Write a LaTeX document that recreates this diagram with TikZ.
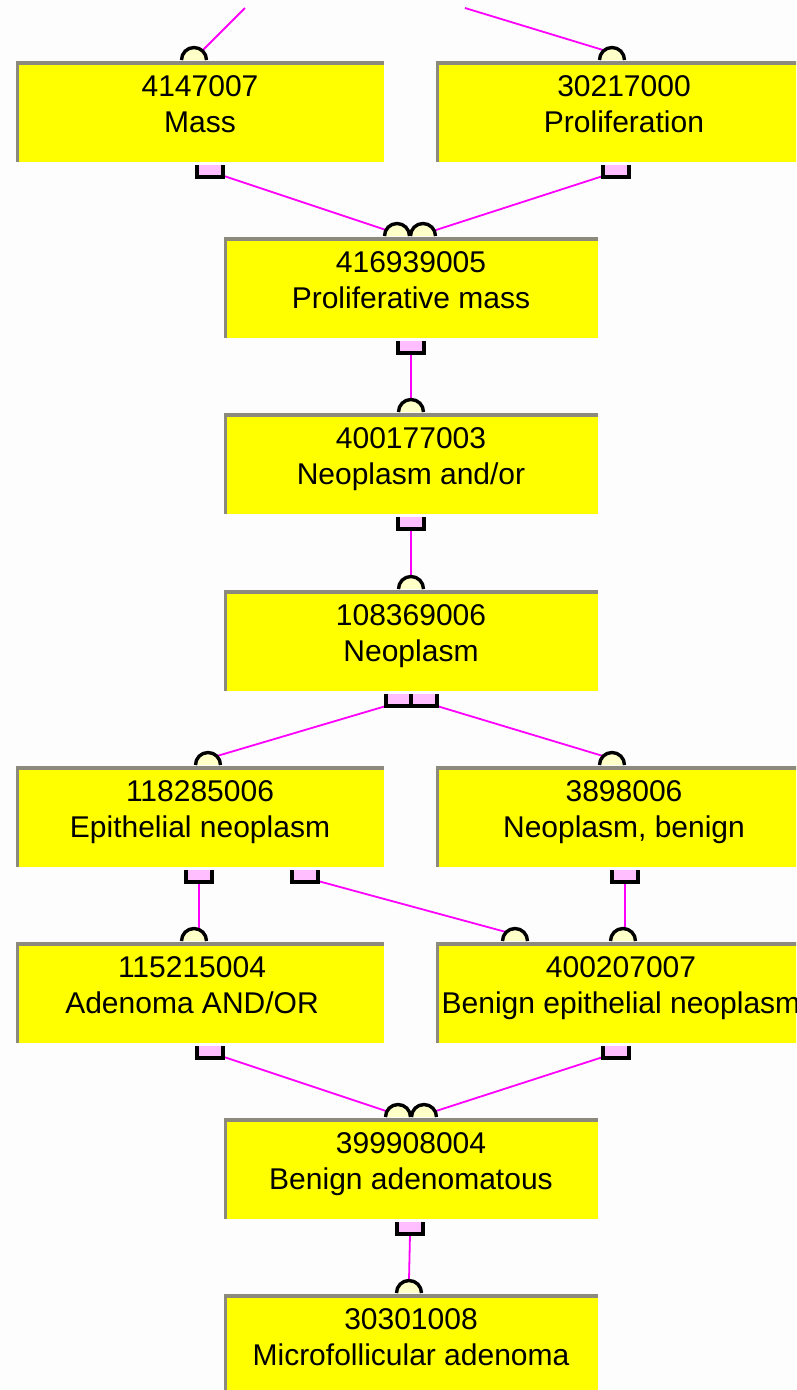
\documentclass[tikz,border=0pt]{standalone}
\usepackage{fontspec}
\setmainfont{Liberation Sans}
\usetikzlibrary{calc}
\definecolor{boxyellow}{RGB}{255,255,0}
\definecolor{edgegray}{RGB}{140,138,125}
\definecolor{linkmag}{RGB}{255,0,255}
\definecolor{sqpink}{RGB}{255,190,255}
\definecolor{arcfill}{RGB}{255,255,200}
\definecolor{bgwhite}{RGB}{253,253,253}
\tikzset{
  concept/.style={fill=boxyellow, draw=none, minimum height=101pt, inner sep=0pt, outer sep=0pt},
  sidebox/.style={concept, minimum width=368pt},
  midbox/.style={concept, minimum width=374pt},
  lbl/.style={font=\fontsize{30}{36}\selectfont, align=center, inner sep=0pt, anchor=north},
  link/.style={linkmag, line width=1.8pt},
  portedge/.style={black, line width=3.4pt},
}
\newcommand{\PortArc}[2]{\draw[portedge, fill=arcfill] (#1-12.5,#2) arc[start angle=180,end angle=360,radius=12.5];}
\newcommand{\PortSq}[2]{\fill[sqpink] (#1-13,#2) rectangle (#1+13,#2+12);
  \draw[portedge] (#1-13,#2) -- (#1-13,#2+12) -- (#1+13,#2+12) -- (#1+13,#2);}
\newcommand{\Rim}[1]{\fill[edgegray] (#1.north west) rectangle ($(#1.north east)+(0,4)$);
  \fill[edgegray] (#1.north west) rectangle ($(#1.south west)+(3,0)$);}
\begin{document}
\begin{tikzpicture}[x=1pt,y=-1pt]
\useasboundingbox (0,0) rectangle (796,1390);
\fill[bgwhite] (0,0) rectangle (796,1390);
\clip (0,0) rectangle (796,1390);
% boxes
\node[sidebox] (mass) at (200,111.5) {};
\node[sidebox] (prolif) at (620,111.5) {};
\node[midbox] (pmass) at (411,287.5) {};
\node[midbox] (nandor) at (411,463.5) {};
\node[midbox] (neo) at (411,640.5) {};
\node[sidebox] (epith) at (200,816.5) {};
\node[sidebox] (nben) at (620,816.5) {};
\node[sidebox] (aden) at (200,992.5) {};
\node[sidebox] (benepi) at (620,992.5) {};
\node[midbox] (benaden) at (411,1168.5) {};
\node[midbox] (micro) at (411,1344.5) {};
\foreach \n in {mass,prolif,pmass,nandor,neo,epith,nben,aden,benepi,benaden,micro}{\Rim{\n}}
% labels
\node[lbl] at ($(mass.north)+(0,10)$) {\strut 4147007\\\strut Mass};
\node[lbl] at ($(prolif.north)+(4,10)$) {\strut 30217000\\\strut Proliferation};
\node[lbl] at ($(pmass.north)+(0,10)$) {\strut 416939005\\\strut Proliferative mass};
\node[lbl] at ($(nandor.north)+(0,10)$) {\strut 400177003\\\strut Neoplasm and/or};
\node[lbl] at ($(neo.north)+(0,10)$) {\strut 108369006\\\strut Neoplasm};
\node[lbl] at ($(epith.north)+(0,10)$) {\strut 118285006\\\strut Epithelial neoplasm};
\node[lbl] at ($(nben.north)+(4,10)$) {\strut 3898006\\\strut Neoplasm, benign};
\node[lbl] at ($(aden.north)+(-8,10)$) {\strut 115215004\\\strut Adenoma AND/OR};
\node[lbl] at ($(benepi.north)+(1,10)$) {\strut 400207007\\\strut Benign epithelial neoplasm};
\node[lbl] at ($(benaden.north)+(0,10)$) {\strut 399908004\\\strut Benign adenomatous};
\node[lbl] at ($(micro.north)+(0,10)$) {\strut 30301008\\\strut Microfollicular adenoma};
% connector end points
\coordinate (topL) at (245,8);
\coordinate (topR) at (465,8);
\coordinate (massIn) at (203,50);
\coordinate (prolifIn) at (603,50);
\coordinate (massOut) at (224,176);
\coordinate (prolifOut) at (603,176);
\coordinate (pmassInL) at (386,230);
\coordinate (pmassInR) at (436,230);
\coordinate (pmassOut) at (411,354);
\coordinate (nandorIn) at (411,399);
\coordinate (nandorOut) at (411,530);
\coordinate (neoIn) at (411,576);
\coordinate (neoOutL) at (386,706);
\coordinate (neoOutR) at (437,706);
\coordinate (epithIn) at (217,756);
\coordinate (nbenIn) at (603,756);
\coordinate (epithOutA) at (199,882);
\coordinate (epithOutB) at (318,881);
\coordinate (nbenOut) at (625,882);
\coordinate (adenIn) at (199,929);
\coordinate (benepiInA) at (506,932);
\coordinate (benepiInB) at (625,928);
\coordinate (adenOut) at (224,1057);
\coordinate (benepiOut) at (603,1057);
\coordinate (benadenInL) at (386,1111);
\coordinate (benadenInR) at (436,1111);
\coordinate (benadenOut) at (410,1234);
\coordinate (microIn) at (409,1280);
% connectors
\draw[link] (topL) -- (massIn);
\draw[link] (topR) -- (prolifIn);
\draw[link] (massOut) -- (pmassInL);
\draw[link] (prolifOut) -- (pmassInR);
\draw[link] (pmassOut) -- (nandorIn);
\draw[link] (nandorOut) -- (neoIn);
\draw[link] (neoOutL) -- (epithIn);
\draw[link] (neoOutR) -- (nbenIn);
\draw[link] (epithOutA) -- (adenIn);
\draw[link] (epithOutB) -- (benepiInA);
\draw[link] (nbenOut) -- (benepiInB);
\draw[link] (adenOut) -- (benadenInL);
\draw[link] (benepiOut) -- (benadenInR);
\draw[link] (benadenOut) -- (microIn);
% ports
\PortArc{194}{60}\PortArc{612}{60}
\PortSq{210}{165}\PortSq{616}{165}
\PortArc{397}{236}\PortArc{423}{236}
\PortSq{411}{341}
\PortArc{411}{412}
\PortSq{411}{517}
\PortArc{411}{589}
\PortSq{399}{694}\PortSq{424}{694}
\PortArc{208}{765}\PortArc{612}{765}
\PortSq{199}{870}\PortSq{305}{870}\PortSq{625}{870}
\PortArc{194}{941}\PortArc{515}{941}\PortArc{623}{941}
\PortSq{210}{1046}\PortSq{616}{1046}
\PortArc{398}{1117}\PortArc{424}{1117}
\PortSq{410}{1222}
\PortArc{409}{1293}
\end{tikzpicture}
\end{document}
